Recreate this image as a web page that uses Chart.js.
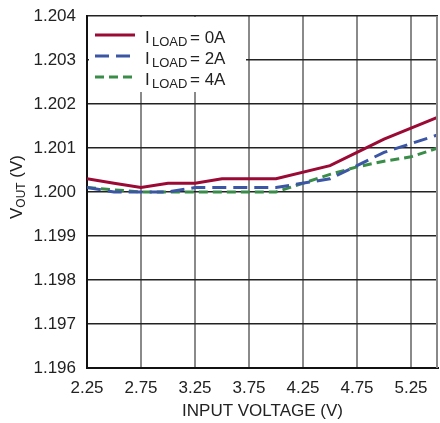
<!DOCTYPE html>
<html>
<head>
<meta charset="utf-8">
<script src="https://cdn.jsdelivr.net/npm/chart.js@4.4.1/dist/chart.umd.min.js"></script>
<style>
  html, body { margin: 0; padding: 0; background: #fff; }
  #wrap { width: 440px; height: 423px; position: relative; }
</style>
</head>
<body>
<div id="wrap"><canvas id="vout"></canvas></div>
<script>
// values
const vin = [2.25, 2.5, 2.75, 3.0, 3.25, 3.5, 4.0, 4.5, 4.75, 5.0, 5.25, 5.5];
const load0A = [1.2003, 1.2002, 1.2001, 1.2002, 1.2002, 1.2003, 1.2003, 1.2006, 1.2009, 1.2012, 1.20145, 1.2017];
const load2A = [1.2001, 1.2000, 1.2000, 1.2000, 1.2001, 1.2001, 1.2001, 1.2003, 1.2006, 1.2009, 1.2011, 1.2013];
const load4A = [1.2001, 1.20005, 1.2000, 1.2000, 1.2000, 1.2000, 1.2000, 1.2004, 1.20057, 1.2007, 1.2008, 1.2010];
const xTicks = [2.25, 2.75, 3.25, 3.75, 4.25, 4.75, 5.25];
const seriesNames = ['0A', '2A', '4A'];

const FONT = '"Liberation Sans", Arial, sans-serif';
const colors = ['#9a0a34', '#3b56a5', '#3a8d48'];
const dashes = [[], [14, 7], [9, 5]];

const pts = arr => vin.map((v, i) => ({ x: v, y: arr[i] }));

// legend box + axis title with subscripts, drawn by hand
const extras = {
  id: 'extras',
  afterDraw(chart) {
    const ctx = chart.ctx;
    const a = chart.chartArea;
    ctx.save();
    // right border
    ctx.strokeStyle = '#888';
    ctx.lineWidth = 2;
    ctx.beginPath();
    ctx.moveTo(a.right - 1, a.top);
    ctx.lineTo(a.right - 1, a.bottom);
    ctx.stroke();

    // legend
    ctx.fillStyle = '#fff';
    ctx.fillRect(a.left + 2, a.top + 1, 157, 75);
    seriesNames.forEach((n, i) => {
      const base = 43 + 21 * i;
      ctx.strokeStyle = colors[i];
      ctx.lineWidth = 3;
      ctx.setLineDash(dashes[i]);
      ctx.beginPath();
      ctx.moveTo(95, base - 8);
      ctx.lineTo(135, base - 8);
      ctx.stroke();
      ctx.setLineDash([]);
      ctx.fillStyle = '#222';
      ctx.textBaseline = 'alphabetic';
      ctx.textAlign = 'left';
      ctx.font = '17px ' + FONT;
      ctx.fillText('I', 145, base);
      ctx.font = '13px ' + FONT;
      ctx.fillText('LOAD', 152, base + 3);
      ctx.font = '17px ' + FONT;
      ctx.fillText('= ' + n, 190, base);
    });

    // y title: V_OUT (V)
    ctx.fillStyle = '#222';
    ctx.translate(22, 187);
    ctx.rotate(-Math.PI / 2);
    ctx.font = '17px ' + FONT;
    const w1 = ctx.measureText('V').width;
    const w3 = ctx.measureText(' (V)').width;
    ctx.font = '12px ' + FONT;
    const w2 = ctx.measureText('OUT').width;
    let x = -(w1 + w2 + w3) / 2;
    ctx.font = '17px ' + FONT;
    ctx.fillText('V', x, 0);
    x += w1;
    ctx.font = '12px ' + FONT;
    ctx.fillText('OUT', x, 3);
    x += w2;
    ctx.font = '17px ' + FONT;
    ctx.fillText(' (V)', x, 0);
    ctx.restore();
  }
};

new Chart(document.getElementById('vout'), {
  type: 'line',
  data: {
    datasets: [load0A, load2A, load4A].map((arr, i) => ({
      label: 'ILOAD = ' + seriesNames[i],
      data: pts(arr),
      borderColor: colors[i],
      borderWidth: 3,
      borderDash: dashes[i],
      pointRadius: 0,
      tension: 0,
      fill: false
    }))
  },
  options: {
    responsive: true,
    maintainAspectRatio: false,
    animation: false,
    layout: { padding: { top: 16, right: 2, left: 0, bottom: 0 } },
    plugins: { legend: { display: false }, tooltip: { enabled: false } },
    scales: {
      x: {
        type: 'linear',
        min: 2.25,
        max: 5.5,
        afterBuildTicks: s => { s.ticks = xTicks.map(v => ({ value: v })); },
        afterFit: s => { s.height = 55; s.paddingRight = 0; },
        grid: { color: '#8a8a8a', lineWidth: 2, drawTicks: false },
        border: { color: '#111', width: 2 },
        ticks: {
          color: '#222',
          font: { family: FONT, size: 17 },
          padding: 10,
          maxRotation: 0,
          callback: v => v.toFixed(2)
        },
        title: {
          display: true,
          text: 'INPUT VOLTAGE (V)',
          color: '#222',
          font: { family: FONT, size: 17 },
          padding: { top: 2, bottom: 1 }
        }
      },
      y: {
        min: 1.196,
        max: 1.204,
        afterFit: s => { s.width = 87; s.paddingTop = 0; s.paddingBottom = 0; },
        grid: { color: '#222', lineWidth: 1.5, drawTicks: false },
        border: { color: '#111', width: 2 },
        ticks: {
          stepSize: 0.001,
          color: '#222',
          font: { family: FONT, size: 17 },
          padding: 11,
          callback: v => v.toFixed(3)
        }
      }
    }
  },
  plugins: [extras]
});
</script>
</body>
</html>
